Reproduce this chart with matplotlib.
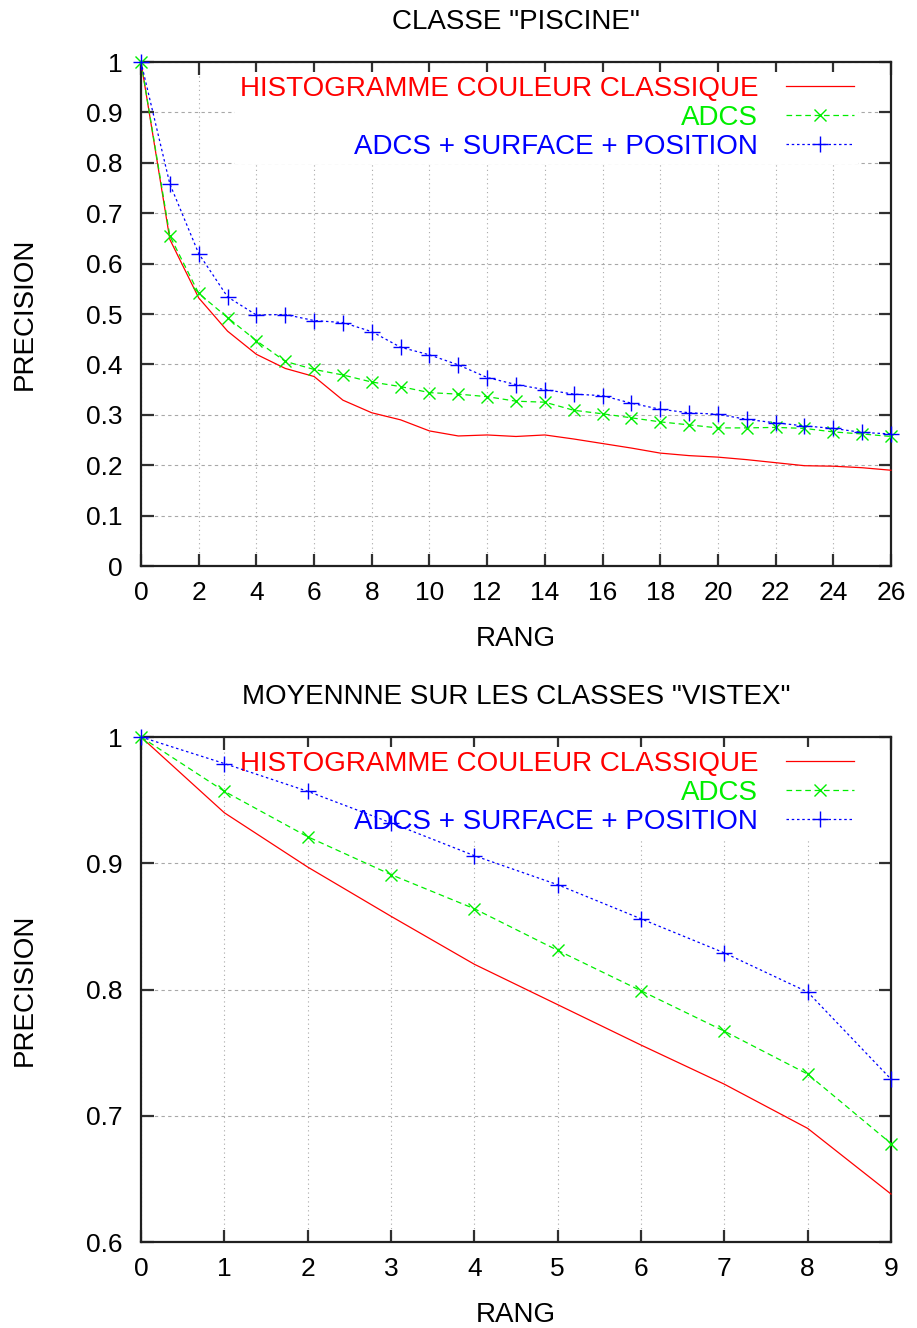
import matplotlib
matplotlib.use('Agg')
import matplotlib.pyplot as plt
from matplotlib.ticker import FixedLocator, FuncFormatter

plt.rcParams['font.family'] = ['Liberation Sans', 'DejaVu Sans']

# --- données ---
labels_series = ['HISTOGRAMME COULEUR CLASSIQUE', 'ADCS', 'ADCS + SURFACE + POSITION']

# classe "piscine"
rang_piscine = list(range(27))
histo_piscine = [1.0, 0.648, 0.532, 0.466, 0.42, 0.392, 0.376, 0.329, 0.304, 0.29,
                 0.268, 0.258, 0.26, 0.257, 0.26, 0.252, 0.243, 0.234, 0.224, 0.219,
                 0.216, 0.211, 0.205, 0.199, 0.198, 0.195, 0.19]
adcs_piscine = [1.0, 0.655, 0.541, 0.493, 0.447, 0.406, 0.39, 0.379, 0.365, 0.356,
                0.344, 0.341, 0.336, 0.327, 0.325, 0.309, 0.302, 0.294, 0.286, 0.28,
                0.274, 0.274, 0.275, 0.273, 0.266, 0.262, 0.257]
asp_piscine = [1.0, 0.758, 0.62, 0.534, 0.498, 0.499, 0.487, 0.483, 0.465, 0.434,
               0.419, 0.399, 0.374, 0.36, 0.35, 0.341, 0.338, 0.323, 0.311, 0.304,
               0.301, 0.291, 0.284, 0.278, 0.273, 0.265, 0.262]

# moyenne sur les classes "vistex"
rang_vistex = list(range(10))
histo_vistex = [1.0, 0.94, 0.897, 0.858, 0.82, 0.788, 0.756, 0.725, 0.69, 0.638]
adcs_vistex = [1.0, 0.957, 0.921, 0.891, 0.864, 0.831, 0.799, 0.767, 0.733, 0.678]
asp_vistex = [1.0, 0.979, 0.957, 0.932, 0.906, 0.883, 0.856, 0.829, 0.798, 0.729]

xticks_piscine = list(range(0, 27, 2))
yticks_piscine = [i / 10 for i in range(11)]
xticks_vistex = list(range(10))
yticks_vistex = [0.6, 0.7, 0.8, 0.9, 1.0]

# style gnuplot
RED, GREEN, BLUE = '#ff0000', '#00ee00', '#0000ff'

W, H = 917, 1328
fig = plt.figure(figsize=(W / 100, H / 100), dpi=100)


def panel(box, titre, rang, histo, adcs, asp, xticks, yticks, xmax, ymin):
    """Un graphe précision / rang"""
    left, top, right, bottom = box
    ax = fig.add_axes([left / W, 1 - bottom / H, (right - left) / W, (bottom - top) / H])
    h_px = bottom - top

    ax.plot(rang, histo, color=RED, lw=0.9, label=labels_series[0], clip_on=False, zorder=3)
    ax.plot(rang, adcs, color=GREEN, lw=0.9, dashes=(4.5, 3), marker='x', ms=9,
            mew=1.0, label=labels_series[1], clip_on=False, zorder=3)
    ax.plot(rang, asp, color=BLUE, lw=0.9, dashes=(2, 2.2), marker='+', ms=11,
            mew=1.0, label=labels_series[2], clip_on=False, zorder=3)

    ax.set_xlim(0, xmax)
    ax.set_ylim(ymin, 1)
    ax.xaxis.set_major_locator(FixedLocator(xticks))
    ax.yaxis.set_major_locator(FixedLocator(yticks))
    ax.yaxis.set_major_formatter(FuncFormatter(lambda v, p: '%g' % round(v, 2)))

    # grille : pointillés verticaux, tirets horizontaux
    ax.set_axisbelow(True)
    ax.xaxis.grid(True, color='#a8a8a8', lw=0.8, linestyle=(0, (1, 3)))
    ax.yaxis.grid(True, color='#a8a8a8', lw=0.8, linestyle=(0, (3, 3)))

    for s in ax.spines.values():
        s.set_linewidth(1.6)
        s.set_color('#202020')
    ax.tick_params(direction='in', length=9, width=1.6, color='#303030',
                   top=True, right=True, labelsize=19)
    ax.tick_params(axis='x', pad=11)
    ax.tick_params(axis='y', pad=13)

    leg = ax.legend(loc='upper right', bbox_to_anchor=(717 / 750, 1 - 10 / h_px),
                    markerfirst=False, fontsize=20, frameon=True, framealpha=1,
                    facecolor='white', edgecolor='none', fancybox=False,
                    borderpad=0.15, borderaxespad=0, handlelength=2.45,
                    handletextpad=1.0, labelspacing=0.1)
    leg.set_zorder(1.5)
    for txt, ln in zip(leg.get_texts(), leg.get_lines()):
        txt.set_color(ln.get_color())

    # titre et axes
    ax.text(0.5, 1 + 33 / h_px, titre, transform=ax.transAxes, ha='center',
            va='baseline', fontsize=20)
    ax.text(0.5, -80 / h_px, 'RANG', transform=ax.transAxes, ha='center',
            va='baseline', fontsize=20)
    ax.text(-116 / 750, 0.5, 'PRECISION', transform=ax.transAxes, ha='center',
            va='center', rotation=90, fontsize=20)
    return ax


panel((141, 62, 891, 566), 'CLASSE "PISCINE"', rang_piscine,
      histo_piscine, adcs_piscine, asp_piscine, xticks_piscine, yticks_piscine, 26, 0)
panel((141, 737, 891, 1242), 'MOYENNNE SUR LES CLASSES "VISTEX"', rang_vistex,
      histo_vistex, adcs_vistex, asp_vistex, xticks_vistex, yticks_vistex, 9, 0.6)

fig.savefig('out.png', dpi=100)
